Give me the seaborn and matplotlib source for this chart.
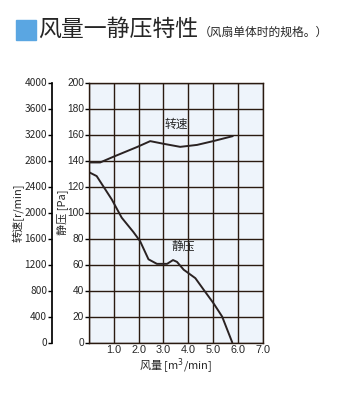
import matplotlib
matplotlib.use("Agg")
import matplotlib.pyplot as plt
import matplotlib.patches as mpatches
import seaborn as sns
import pandas as pd

sns.set_theme(style="white")
plt.rcParams["font.family"] = ["Noto Sans CJK SC", "DejaVu Sans"]

# Static pressure curve: flow [m3/min] vs pressure [Pa]
pressure_flow = [0.0, 0.31, 0.92, 1.32, 1.79, 2.06, 2.40, 2.74, 3.15, 3.39, 3.55, 3.82, 4.29, 4.63, 5.03, 5.37, 5.78]
pressure_pa = [131, 128, 110, 96, 85, 78, 64, 60.5, 60.5, 63.4, 62, 56, 49.5, 40.5, 30, 20, 0]

# Fan speed curve: flow [m3/min] vs speed [r/min]
speed_flow = [0.0, 0.45, 0.98, 1.93, 2.47, 3.01, 3.68, 4.36, 5.03, 5.80]
speed_rpm = [2770, 2770, 2857, 3006, 3098, 3057, 3010, 3040, 3100, 3175]

x_ticks = [1.0, 2.0, 3.0, 4.0, 5.0, 6.0, 7.0]
pa_ticks = [0, 20, 40, 60, 80, 100, 120, 140, 160, 180, 200]
rpm_ticks = [0, 400, 800, 1200, 1600, 2000, 2400, 2800, 3200, 3600, 4000]

W, H = 343, 409
fig = plt.figure(figsize=(W / 100, H / 100), dpi=100)
fig.patch.set_facecolor("white")

L, R, T, B = 89, 262.5, 82.5, 342.5
ax = fig.add_axes([L / W, 1 - B / H, (R - L) / W, (B - T) / H])
ax.set_facecolor("#eef4fb")

press_df = pd.DataFrame({"flow": pressure_flow, "pa": pressure_pa})
speed_df = pd.DataFrame({"flow": speed_flow, "rpm": speed_rpm})

line_kw = dict(color="#2a2222", linewidth=1.4)
sns.lineplot(data=press_df, x="flow", y="pa", ax=ax, **line_kw)

num_font = dict(fontsize=7.3, family="Liberation Sans")

ax.set_xlim(0, 7)
ax.set_ylim(0, 200)
ax.set_xticks([0] + x_ticks)
ax.set_xticklabels([""] + [f"{v:.1f}" for v in x_ticks], fontsize=7.8, family="Liberation Sans")
ax.set_yticks(pa_ticks)
ax.set_yticklabels([str(v) for v in pa_ticks], **num_font)
ax.grid(True, color="#2a1a10", linewidth=1.0)
ax.tick_params(axis="x", length=0, pad=2)
ax.tick_params(axis="y", length=3, width=1, color="black", pad=0.5, left=True)
for s in ax.spines.values():
    s.set_color("#2a1a10")
    s.set_linewidth(1.0)
ax.set_xlabel("风量 [m$^3$/min]", fontsize=8, labelpad=1)
ax.set_ylabel("静压 [Pa]", fontsize=8)
ax.yaxis.set_label_coords((68 - L) / (R - L), 0.5)

# Speed axis on a second spine further left
ax2 = ax.twinx()
sns.lineplot(data=speed_df, x="flow", y="rpm", ax=ax2, **line_kw)
ax2.set_ylim(0, 4000)
ax2.yaxis.set_ticks_position("left")
ax2.yaxis.set_label_position("left")
ax2.set_yticks(rpm_ticks)
ax2.set_yticklabels([str(v) for v in rpm_ticks], **num_font)
ax2.tick_params(axis="y", which="both", labelsize=7.3, length=3, width=1,
                color="black", pad=0.5, left=True, labelleft=True,
                right=False, labelright=False)
ax2.spines["left"].set_position(("outward", 37 * 72 / 100))
ax2.spines["left"].set_visible(True)
ax2.spines["left"].set_color("black")
for k in ("right", "top", "bottom"):
    ax2.spines[k].set_visible(False)
ax2.set_ylabel("转速[r/min]", fontsize=8)
ax2.yaxis.set_label_coords((25 - L) / (R - L), 0.5)
ax2.grid(False)

ax.text(3.51, 167.5, "转速", fontsize=8.5, ha="center", va="center")
ax.text(3.82, 74.4, "静压", fontsize=8.5, ha="center", va="center")

# Heading
fig.patches.append(mpatches.Rectangle((16 / W, 1 - 40 / H), 20 / W, 20 / H,
                                      transform=fig.transFigure, color="#5aa6e2"))
fig.text(38 / W, 1 - 29 / H, "风量一静压特性", fontsize=16.5, va="center", ha="left")
fig.text(199 / W, 1 - 32 / H, "（风扇单体时的规格。）", fontsize=8.5, va="center", ha="left")

fig.savefig("out.png", dpi=100, facecolor="white")
